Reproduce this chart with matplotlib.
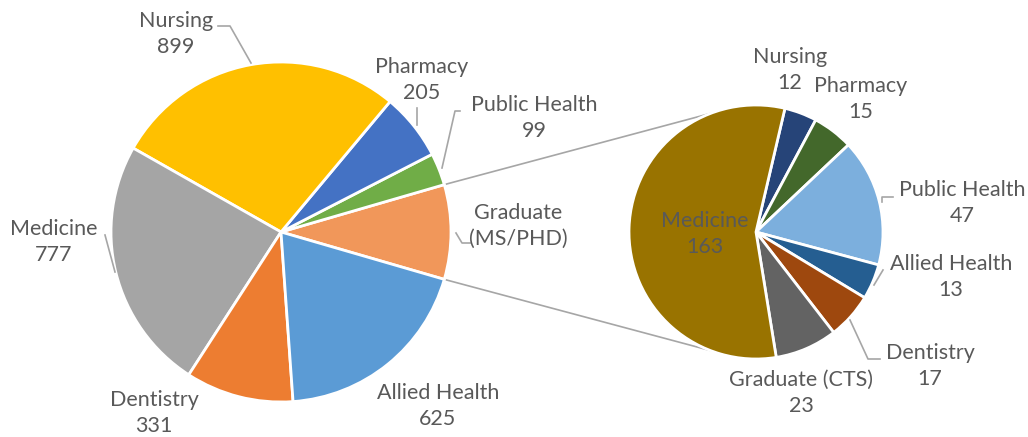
import numpy as np
import matplotlib
matplotlib.use("Agg")
import matplotlib.pyplot as plt

plt.rcParams['font.family'] = ['Lato', 'DejaVu Sans']

## data ---------------------------------------------------------------
left_names  = ["Graduate (MS/PHD)", "Public Health", "Pharmacy", "Nursing",
               "Medicine", "Dentistry", "Allied Health"]
right_names = ["Nursing", "Pharmacy", "Public Health", "Allied Health",
               "Dentistry", "Graduate (CTS)", "Medicine"]
right_values = [12, 15, 47, 13, 17, 23, 163]
# the graduate slice on the left is the whole of the right pie
left_values = [sum(right_values), 99, 205, 899, 777, 331, 625]

left_colors  = ["#F1975A", "#70AD47", "#4472C4", "#FFC000",
                "#A5A5A5", "#ED7D31", "#5B9BD5"]
right_colors = ["#264478", "#43682B", "#7CAFDD", "#255E91",
                "#9E480E", "#636363", "#997300"]

## layout (pixels, y measured from top) -------------------------------
W, H = 1028, 437
def Y(y):
    return H - y

L_cx, L_cy, L_r = 281, 232, 170
R_cx, R_cy, R_r = 756, 232, 127

TXT = "#595959"
LINE = "#A6A6A6"
FS = 15.5

fig = plt.figure(figsize=(W / 100, H / 100), dpi=100)
ax = fig.add_axes([0, 0, 1, 1])

grad_half = 180.0 * left_values[0] / sum(left_values)
ax.pie(left_values, colors=left_colors, center=(L_cx, Y(L_cy)), radius=L_r,
       startangle=-grad_half, counterclock=True,
       wedgeprops=dict(edgecolor="white", linewidth=2))

rest_half = 180.0 * sum(right_values[:-1]) / sum(right_values)
ax.pie(right_values, colors=right_colors, center=(R_cx, Y(R_cy)), radius=R_r,
       startangle=rest_half - 2, counterclock=False,
       wedgeprops=dict(edgecolor="white", linewidth=2))

## connector lines between the pies
for sgn in (1, -1):
    a1 = np.radians(sgn * grad_half)
    a2 = np.radians(sgn * 111)
    ax.plot([L_cx + L_r * np.cos(a1), R_cx + R_r * np.cos(a2)],
            [Y(L_cy) + L_r * np.sin(a1), Y(R_cy) + R_r * np.sin(a2)],
            color=LINE, lw=1.2, zorder=0.5)

## labels
def label(text, x, y, color=TXT):
    ax.text(x, Y(y), text, ha="center", va="center", fontsize=FS,
            color=color, linespacing=1.4)

lv = dict(zip(left_names, left_values))
rv = dict(zip(right_names, right_values))

label(f"Nursing\n{lv['Nursing']}", 176, 34)
label(f"Pharmacy\n{lv['Pharmacy']}", 422, 80)
label(f"Public Health\n{lv['Public Health']}", 534, 118)
label("Graduate\n(MS/PHD)", 518, 226)
label(f"Allied Health\n{lv['Allied Health']}", 438, 406)
label(f"Dentistry\n{lv['Dentistry']}", 154, 413)
label(f"Medicine\n{lv['Medicine']}", 54, 242)

label(f"Medicine\n{rv['Medicine']}", 705, 234)
label(f"Nursing\n{rv['Nursing']}", 790, 70)
label(f"Pharmacy\n{rv['Pharmacy']}", 861, 99)
label(f"Public Health\n{rv['Public Health']}", 962, 203)
label(f"Allied Health\n{rv['Allied Health']}", 951, 277)
label(f"Dentistry\n{rv['Dentistry']}", 930, 366)
label(f"Graduate (CTS)\n{rv['Graduate (CTS)']}", 801, 393)

## leader lines
leaders = [
    [(218, 26), (230, 26), (251, 63)],
    [(417, 108), (417, 125)],
    [(460, 111), (455, 111), (442, 168)],
    [(470, 243), (462, 243), (456, 233)],
    [(105, 235), (115, 272)],
    [(893, 197), (882, 197), (882, 202)],
    [(883, 270), (874, 285)],
    [(880, 359), (868, 359), (850, 320)],
]
for pts in leaders:
    xs = [p[0] for p in pts]
    ys = [Y(p[1]) for p in pts]
    ax.plot(xs, ys, color=LINE, lw=1.2)

ax.set_xlim(0, W)
ax.set_ylim(0, H)
ax.set_aspect("equal")
ax.axis("off")

fig.savefig("out.png", dpi=100)
